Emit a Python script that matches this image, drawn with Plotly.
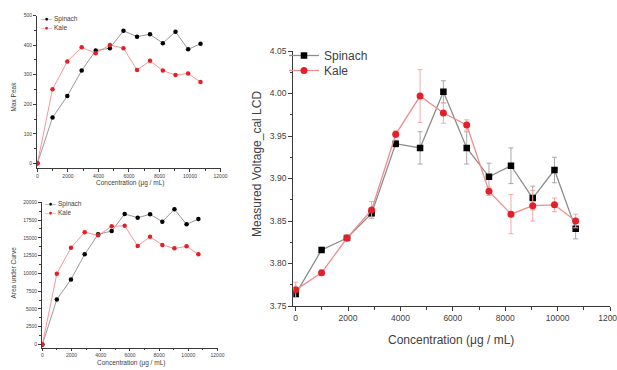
import plotly.graph_objects as go

# ---------------- data ----------------
conc = [0, 990, 1960, 2900, 3820, 4750, 5640, 6530, 7380, 8220, 9050, 9880, 10690]

spinach_v = [3.764, 3.816, 3.830, 3.859, 3.941, 3.936, 4.002, 3.936, 3.902, 3.915, 3.877, 3.910, 3.841]
spinach_err = [0.004, 0.003, 0.003, 0.004, 0.004, 0.019, 0.013, 0.019, 0.016, 0.021, 0.014, 0.015, 0.012]
kale_v = [3.769, 3.789, 3.830, 3.863, 3.952, 3.997, 3.977, 3.963, 3.885, 3.858, 3.868, 3.869, 3.850]
kale_err = [0.009, 0.003, 0.003, 0.010, 0.004, 0.031, 0.012, 0.006, 0.005, 0.023, 0.018, 0.008, 0.008]

max_spinach = [0, 155, 228, 314, 382, 390, 449, 429, 437, 407, 446, 386, 405]
max_kale = [0, 251, 345, 393, 373, 401, 390, 316, 347, 314, 299, 304, 275]

auc_spinach = [0, 6340, 9150, 12680, 15490, 15960, 18360, 17840, 18310, 17280, 19010, 16900, 17650]
auc_kale = [0, 9950, 13620, 15780, 15350, 16620, 16710, 13850, 15160, 13990, 13520, 13800, 12680]

x_ticks = [0, 2000, 4000, 6000, 8000, 10000, 12000]
main_y_ticks = [3.75, 3.80, 3.85, 3.90, 3.95, 4.00, 4.05]
max_y_ticks = [0, 100, 200, 300, 400, 500]
auc_y_ticks = [0, 2500, 5000, 7500, 10000, 12500, 15000, 17500, 20000]

W, H = 617, 370
FONT = "Arial, Liberation Sans, sans-serif"
AX = "#3a3a3a"
TXT = "#404040"
SP_LINE = "#8c8c8c"
KA_LINE = "#f08c8c"
KA_MARK = "#e3202a"


def px_x(p):
    return p / W


def px_y(p):
    return 1 - p / H


fig = go.Figure()

# ---------------- main plot ----------------
fig.add_trace(go.Scatter(
    x=conc, y=spinach_v, name="Spinach", mode="lines+markers",
    line=dict(color=SP_LINE, width=1.3),
    marker=dict(symbol="square", size=6.5, color="#000000"),
    error_y=dict(type="data", array=spinach_err, color="#a8a8a8", thickness=1, width=2.5),
    xaxis="x", yaxis="y", legend="legend"))
fig.add_trace(go.Scatter(
    x=conc, y=kale_v, name="Kale", mode="lines+markers",
    line=dict(color=KA_LINE, width=1.3),
    marker=dict(symbol="circle", size=7, color=KA_MARK),
    error_y=dict(type="data", array=kale_err, color="#f2a8a8", thickness=1, width=2.5),
    xaxis="x", yaxis="y", legend="legend2"))

# ---------------- top-left: Max Peak ----------------
fig.add_trace(go.Scatter(
    x=conc, y=max_spinach, name="Spinach", mode="lines+markers",
    line=dict(color=SP_LINE, width=0.9),
    marker=dict(symbol="circle", size=4.5, color="#000000"),
    xaxis="x2", yaxis="y2", showlegend=False))
fig.add_trace(go.Scatter(
    x=conc, y=max_kale, name="Kale", mode="lines+markers",
    line=dict(color=KA_LINE, width=0.9),
    marker=dict(symbol="circle", size=4.5, color=KA_MARK),
    xaxis="x2", yaxis="y2", showlegend=False))

# ---------------- bottom-left: Area under Curve ----------------
fig.add_trace(go.Scatter(
    x=conc, y=auc_spinach, name="Spinach", mode="lines+markers",
    line=dict(color=SP_LINE, width=0.9),
    marker=dict(symbol="circle", size=4.5, color="#000000"),
    xaxis="x3", yaxis="y3", showlegend=False))
fig.add_trace(go.Scatter(
    x=conc, y=auc_kale, name="Kale", mode="lines+markers",
    line=dict(color=KA_LINE, width=0.9),
    marker=dict(symbol="circle", size=4.5, color=KA_MARK),
    xaxis="x3", yaxis="y3", showlegend=False))


def xaxis_cfg(domain, rng, anchor, fsize, tl, mtl, lw):
    return dict(domain=domain, range=rng, anchor=anchor, showgrid=False, zeroline=False,
                showline=True, linecolor=AX, linewidth=lw,
                tickmode="array", tickvals=x_ticks, ticktext=[str(v) for v in x_ticks],
                ticks="outside", ticklen=tl, tickwidth=1, tickcolor=AX,
                tickfont=dict(family=FONT, size=fsize, color=TXT),
                ticklabeloverflow="allow",
                minor=dict(dtick=1000, tick0=0, ticks="outside", ticklen=mtl, tickcolor=AX, tickwidth=1),
                automargin=False, fixedrange=True)


def yaxis_cfg(domain, rng, anchor, vals, texts, minor_dt, fsize, tl, mtl, lw):
    return dict(domain=domain, range=rng, anchor=anchor, showgrid=False, zeroline=False,
                showline=True, linecolor=AX, linewidth=lw,
                tickmode="array", tickvals=vals, ticktext=texts,
                ticks="outside", ticklen=tl, tickwidth=1, tickcolor=AX,
                tickfont=dict(family=FONT, size=fsize, color=TXT),
                ticklabeloverflow="allow",
                minor=dict(dtick=minor_dt, tick0=vals[0], ticks="outside", ticklen=mtl, tickcolor=AX, tickwidth=1),
                automargin=False, fixedrange=True)


legend_common = dict(xanchor="left", yanchor="top", bgcolor="rgba(0,0,0,0)", borderwidth=0,
                     font=dict(family=FONT, size=12, color=TXT), tracegroupgap=0, itemwidth=30)

fig.update_layout(
    width=W, height=H,
    margin=dict(l=0, r=0, t=0, b=0, pad=0),
    paper_bgcolor="white", plot_bgcolor="white",
    font=dict(family=FONT, color=TXT),
    xaxis=xaxis_cfg([px_x(293.3), px_x(610)], [-90, 12000], "y", 8.5, 4, 2.5, 1.4),
    yaxis=yaxis_cfg([px_y(306), px_y(51)], [3.75, 4.05], "x", main_y_ticks,
                    ["%.2f" % v for v in main_y_ticks], 0.025, 8.5, 4, 2.5, 1.4),
    xaxis2=xaxis_cfg([px_x(36.5), px_x(220.5)], [-60, 12000], "y2", 5, 2.5, 1.5, 0.9),
    yaxis2=yaxis_cfg([px_y(168.3), px_y(15.7)], [-17, 500], "x2", max_y_ticks,
                     [str(v) for v in max_y_ticks], 50, 5, 2.5, 1.5, 0.9),
    xaxis3=xaxis_cfg([px_x(41.5), px_x(217.5)], [-60, 12000], "y3", 5, 2.5, 1.5, 0.9),
    yaxis3=yaxis_cfg([px_y(348), px_y(202.3)], [-500, 20000], "x3", auc_y_ticks,
                     [str(v) for v in auc_y_ticks], 1250, 5, 2.5, 1.5, 0.9),
    legend=dict(x=px_x(284), y=px_y(41), **legend_common),
    legend2=dict(x=px_x(284), y=px_y(56), **legend_common),
    showlegend=True,
)

ann = []
# axis titles
ann.append(dict(text="Concentration (μg / mL)", x=px_x(450.5), y=px_y(340), xref="paper", yref="paper",
                showarrow=False, font=dict(family=FONT, size=12, color=TXT), xanchor="center", yanchor="middle"))
ann.append(dict(text="Measured Voltage_cal LCD", x=px_x(257), y=px_y(164), xref="paper", yref="paper",
                showarrow=False, textangle=-90, font=dict(family=FONT, size=12, color=TXT),
                xanchor="center", yanchor="middle"))
ann.append(dict(text="Concentration (μg / mL)", x=px_x(130), y=px_y(183), xref="paper", yref="paper",
                showarrow=False, font=dict(family=FONT, size=6.5, color=TXT), xanchor="center", yanchor="middle"))
ann.append(dict(text="Max Peak", x=px_x(12.5), y=px_y(97), xref="paper", yref="paper",
                showarrow=False, textangle=-90, font=dict(family=FONT, size=6.5, color=TXT),
                xanchor="center", yanchor="middle"))
ann.append(dict(text="Concentration (μg / mL)", x=px_x(131), y=px_y(363), xref="paper", yref="paper",
                showarrow=False, font=dict(family=FONT, size=6.5, color=TXT), xanchor="center", yanchor="middle"))
ann.append(dict(text="Area under Curve", x=px_x(12.5), y=px_y(273), xref="paper", yref="paper",
                showarrow=False, textangle=-90, font=dict(family=FONT, size=6.5, color=TXT),
                xanchor="center", yanchor="middle"))


def small_key(label, line_c, mark_c):
    return ('<span style="color:%s">–</span><span style="color:%s">●</span>'
            '<span style="color:%s">–</span> %s' % (line_c, mark_c, line_c, label))


for (lx, ly, lab, lc, mc) in [(38.5, 19, "Spinach", SP_LINE, "#000000"),
                              (38.5, 27.3, "Kale", KA_LINE, KA_MARK),
                              (43, 204.3, "Spinach", SP_LINE, "#000000"),
                              (43, 212.3, "Kale", KA_LINE, KA_MARK)]:
    ann.append(dict(text=small_key(lab, lc, mc), x=px_x(lx), y=px_y(ly), xref="paper", yref="paper",
                    showarrow=False, font=dict(family=FONT, size=6.5, color=TXT),
                    xanchor="left", yanchor="middle"))

fig.update_layout(annotations=ann)

fig.write_html("out.html",
               config={"displayModeBar": False},
               post_script="document.body.style.margin='0';document.body.style.padding='0';")
